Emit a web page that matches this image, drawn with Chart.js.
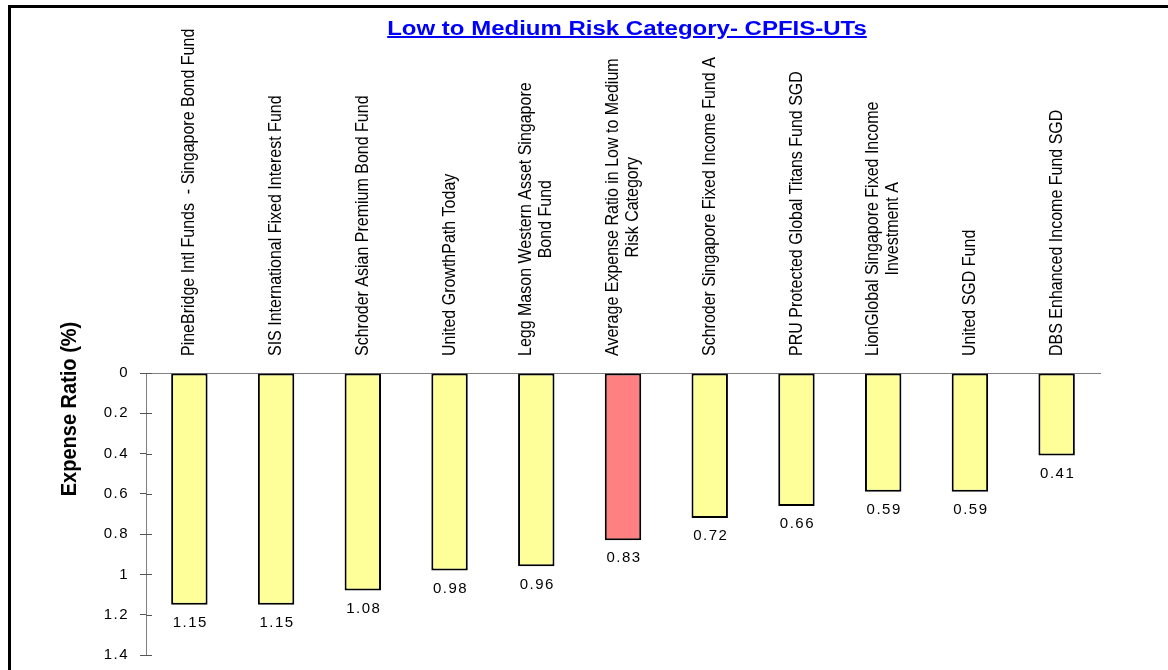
<!DOCTYPE html>
<html>
<head>
<meta charset="utf-8">
<title>Low to Medium Risk Category- CPFIS-UTs</title>
<script src="https://cdn.jsdelivr.net/npm/chart.js@4.4.1/dist/chart.umd.min.js"></script>
<style>
  html, body { margin: 0; padding: 0; background: #fff; }
  #wrap { position: relative; width: 1168px; height: 670px; overflow: hidden; }
  #frame {
    position: absolute; left: 8px; top: 5px; width: 1200px; height: 700px;
    border-top: 3px solid #000; border-left: 3px solid #000;
  }
  #title {
    position: absolute; left: 427px; top: 18px; width: 400px; text-align: center;
    font: bold 20px "Liberation Sans", Arial, sans-serif; line-height: 20px;
    color: #0000ff; text-decoration: underline; white-space: nowrap;
    transform: scaleX(1.2); transform-origin: 200px 0;
  }
  #box { position: absolute; left: 0; top: 0; width: 1168px; height: 670px; }
</style>
</head>
<body>
<div id="wrap">
  <div id="box"><canvas id="chart"></canvas></div>
  <div id="frame"></div>
  <div id="title">Low to Medium Risk Category- CPFIS-UTs</div>
</div>
<script>
// Data
const categories = [
  'PineBridge Intl Funds  - Singapore Bond Fund',
  'SIS International Fixed Interest Fund',
  'Schroder Asian Premium Bond Fund',
  'United GrowthPath Today',
  ['Legg Mason Western Asset Singapore', 'Bond Fund'],
  ['Average Expense Ratio in Low to Medium', 'Risk Category'],
  'Schroder Singapore Fixed Income Fund A',
  'PRU Protected Global Titans Fund SGD',
  ['LionGlobal Singapore Fixed Income', 'Investment A'],
  'United SGD Fund',
  'DBS Enhanced Income Fund SGD'
];
const expenseRatios = [1.15, 1.15, 1.08, 0.98, 0.96, 0.83, 0.72, 0.66, 0.59, 0.59, 0.41];
const yTicks = [0, 0.2, 0.4, 0.6, 0.8, 1, 1.2, 1.4];
const yTitle = 'Expense Ratio (%)';

const FONT = '"Liberation Sans", Arial, sans-serif';

// the average bar is the red one
const isAverage = i => {
  const c = categories[i];
  return (Array.isArray(c) ? c[0] : c).startsWith('Average');
};

// spaced-out horizontal text like the original
const spacing = {
  id: 'spacing',
  beforeDraw(chart) { chart.ctx.letterSpacing = '1.5px'; }
};

// rotated category names above the zero line, y title, inner tick marks
const extras = {
  id: 'extras',
  afterDraw(chart) {
    const { ctx, chartArea, scales: { x, y } } = chart;
    ctx.save();
    ctx.letterSpacing = '0px';

    // ticks also cross to the inside of the axis
    ctx.strokeStyle = '#555';
    ctx.lineWidth = 1;
    yTicks.forEach(v => {
      const py = Math.round(y.getPixelForValue(v)) + 0.5;
      ctx.beginPath();
      ctx.moveTo(chartArea.left, py);
      ctx.lineTo(chartArea.left + 6, py);
      ctx.stroke();
    });

    ctx.font = '16px ' + FONT;
    ctx.fillStyle = '#000';
    const lineH = 20;
    categories.forEach((label, i) => {
      const lines = Array.isArray(label) ? label : [label];
      const widest = Math.max(...lines.map(l => ctx.measureText(l).width));
      ctx.save();
      ctx.translate(x.getPixelForValue(i), chartArea.top - 17);
      ctx.rotate(-Math.PI / 2);
      ctx.scale(1, 1.15);
      ctx.textAlign = 'center';
      ctx.textBaseline = 'middle';
      lines.forEach((line, j) => {
        ctx.fillText(line, widest / 2, (j - (lines.length - 1) / 2) * lineH / 1.15);
      });
      ctx.restore();
    });

    // y axis title
    ctx.font = 'bold 20px ' + FONT;
    ctx.translate(70, 409);
    ctx.rotate(-Math.PI / 2);
    ctx.scale(1, 1.12);
    ctx.textAlign = 'center';
    ctx.textBaseline = 'middle';
    ctx.fillText(yTitle, 0, 0);
    ctx.restore();
  }
};

// value under each bar
const valueLabels = {
  id: 'valueLabels',
  afterDatasetsDraw(chart) {
    const { ctx } = chart;
    const meta = chart.getDatasetMeta(0);
    ctx.save();
    ctx.letterSpacing = '1.5px';
    ctx.font = '15px ' + FONT;
    ctx.fillStyle = '#000';
    ctx.textAlign = 'center';
    ctx.textBaseline = 'middle';
    meta.data.forEach((bar, i) => {
      ctx.fillText(expenseRatios[i].toFixed(2), bar.x + 1, bar.y + 18);
    });
    ctx.restore();
  }
};

new Chart(document.getElementById('chart'), {
  type: 'bar',
  data: {
    labels: categories,
    datasets: [{
      data: expenseRatios,
      backgroundColor: ctx => isAverage(ctx.dataIndex) ? '#ff8080' : '#ffff99',
      borderColor: '#000',
      borderWidth: 2,
      borderSkipped: false,
      categoryPercentage: 1,
      barPercentage: 0.42
    }]
  },
  options: {
    responsive: true,
    maintainAspectRatio: false,
    animation: false,
    layout: { padding: { top: 19, right: 68, bottom: 15, left: 0 } },
    plugins: {
      legend: { display: false },
      title: { display: false },
      tooltip: { enabled: false }
    },
    scales: {
      x: {
        position: 'top',
        ticks: { display: false },
        grid: { display: false },
        border: { color: '#808080', width: 1 },
        afterFit(scale) { scale.height = 354; }
      },
      y: {
        reverse: true,
        min: 0,
        max: 1.4,
        afterBuildTicks(scale) { scale.ticks = yTicks.map(v => ({ value: v })); },
        ticks: {
          color: '#000',
          padding: 11,
          font: { size: 15, family: FONT },
          callback: v => String(+Number(v).toFixed(1))
        },
        grid: { drawOnChartArea: false, tickLength: 6, color: '#555' },
        border: { color: '#808080', width: 1 },
        afterFit(scale) {
          scale.width = 146;
          scale.paddingTop = 0;
          scale.paddingBottom = 0;
        }
      }
    }
  },
  plugins: [spacing, extras, valueLabels]
});
</script>
</body>
</html>
